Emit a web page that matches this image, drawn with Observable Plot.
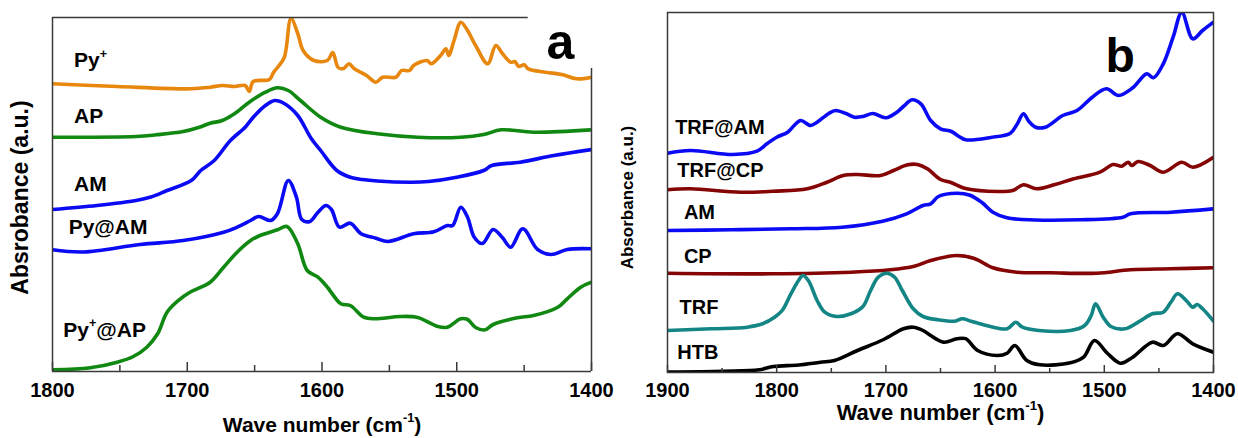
<!DOCTYPE html>
<html><head><meta charset="utf-8">
<script src="https://cdn.jsdelivr.net/npm/d3@7"></script>
<script src="https://cdn.jsdelivr.net/npm/@observablehq/plot@0.6"></script>
<style>
body{margin:0;background:#fff;}
#chart{position:relative;width:1238px;height:438px;overflow:hidden;background:#fff;}
#chart svg{position:absolute;top:0;overflow:visible;}
</style></head><body><div id="chart"></div>
<script>
// ---------- Panel a : [wavenumber cm-1, absorbance a.u. (offset)] ----------
const pyPlus = [[1800,2.877],[1752,2.85],[1697,2.827],[1683,2.843],[1674,2.86],[1665,2.85],[1657,2.86],[1654,2.80],[1651,2.90],[1639,2.92],[1636,2.99],[1633,3.04],[1628,3.14],[1623,3.53],[1618,3.38],[1614,3.21],[1606,3.11],[1596,3.11],[1592,3.19],[1588,3.04],[1584,3.03],[1580,3.077],[1576,3.027],[1567,2.96],[1560,2.893],[1555,2.943],[1545,2.943],[1541,3.01],[1535,3.01],[1532,3.06],[1522,3.11],[1519,3.077],[1512,3.16],[1508,3.227],[1506,3.16],[1502,3.31],[1497,3.493],[1492,3.41],[1486,3.26],[1477,3.077],[1471,3.26],[1466,3.177],[1460,3.093],[1457,3.10],[1454,3.05],[1450,3.067],[1447,3.027],[1434,2.993],[1422,2.97],[1411,2.927],[1400,2.943]];
const apA = [[1800,2.343],[1738,2.35],[1723,2.367],[1703,2.40],[1691,2.443],[1683,2.483],[1674,2.51],[1665,2.577],[1654,2.693],[1642,2.793],[1633,2.837],[1625,2.81],[1616,2.71],[1601,2.543],[1586,2.443],[1559,2.377],[1529,2.343],[1497,2.343],[1480,2.37],[1467,2.417],[1443,2.393],[1400,2.417]];
const amA = [[1800,1.62],[1767,1.66],[1738,1.71],[1727,1.745],[1715,1.81],[1697,1.91],[1690,2.01],[1680,2.11],[1668,2.31],[1657,2.443],[1651,2.543],[1642,2.66],[1635,2.71],[1628,2.68],[1618,2.56],[1608,2.33],[1601,2.21],[1589,2.01],[1579,1.943],[1570,1.92],[1559,1.905],[1534,1.893],[1521,1.90],[1500,1.943],[1480,2.01],[1474,2.06],[1453,2.093],[1428,2.16],[1400,2.22]];
const pyAM = [[1800,1.217],[1777,1.195],[1735,1.27],[1703,1.31],[1673,1.393],[1663,1.443],[1653,1.51],[1647,1.55],[1638,1.51],[1633,1.58],[1625,1.91],[1619,1.743],[1615,1.52],[1609,1.50],[1603,1.593],[1597,1.66],[1593,1.62],[1587,1.443],[1579,1.483],[1571,1.377],[1560,1.333],[1551,1.30],[1532,1.377],[1517,1.397],[1507,1.46],[1503,1.46],[1497,1.643],[1492,1.543],[1487,1.343],[1481,1.28],[1473,1.42],[1466,1.337],[1460,1.243],[1451,1.427],[1440,1.22],[1430,1.17],[1418,1.22],[1400,1.227]];
const pyPlusAP = [[1800,0.017],[1772,0.037],[1752,0.093],[1740,0.15],[1730,0.243],[1722,0.377],[1715,0.593],[1706,0.717],[1698,0.793],[1683,0.893],[1673,1.043],[1663,1.193],[1653,1.31],[1646,1.36],[1633,1.417],[1626,1.45],[1618,1.277],[1611,1.01],[1603,0.943],[1596,0.843],[1586,0.677],[1579,0.66],[1569,0.543],[1561,0.527],[1542,0.55],[1529,0.54],[1514,0.45],[1507,0.443],[1497,0.527],[1492,0.52],[1486,0.44],[1479,0.417],[1473,0.47],[1455,0.537],[1443,0.56],[1425,0.643],[1418,0.727],[1408,0.843],[1400,0.893]];
const seriesNamesA = ["Py^{+}", "AP", "AM", "Py@AM", "Py^{+}@AP"];
const labelWaveA = [1784, 1784, 1784, 1788, 1792];
const labelAbsA = [3.11, 2.555, 1.87, 1.445, 0.415];
const ticksMajorA = [1800, 1700, 1600, 1500, 1400];
const ticksMinorA = [1750, 1650, 1550, 1450];

// ---------- Panel b ----------
const trfAM = [[1900,2.193],[1879,2.22],[1840,2.18],[1818,2.213],[1809,2.287],[1800,2.353],[1790,2.403],[1784,2.47],[1778,2.52],[1769,2.47],[1763,2.503],[1752,2.593],[1746,2.62],[1736,2.587],[1729,2.553],[1721,2.56],[1712,2.59],[1700,2.547],[1690,2.603],[1684,2.66],[1676,2.727],[1668,2.687],[1659,2.52],[1650,2.437],[1640,2.41],[1633,2.36],[1627,2.327],[1604,2.35],[1586,2.393],[1580,2.48],[1574,2.587],[1569,2.51],[1563,2.453],[1554,2.453],[1538,2.57],[1525,2.62],[1511,2.753],[1498,2.837],[1487,2.77],[1474,2.847],[1461,2.987],[1455,2.947],[1446,3.087],[1437,3.353],[1429,3.60],[1419,3.337],[1410,3.42],[1400,3.503]];
const trfCP = [[1900,1.827],[1879,1.837],[1833,1.803],[1803,1.813],[1772,1.837],[1754,1.903],[1739,1.97],[1726,1.98],[1705,1.97],[1693,2.02],[1680,2.077],[1671,2.08],[1662,2.037],[1650,1.93],[1641,1.903],[1626,1.837],[1598,1.81],[1584,1.82],[1574,1.877],[1562,1.837],[1545,1.88],[1528,1.937],[1504,2.003],[1492,2.08],[1484,2.063],[1478,2.103],[1475,2.07],[1469,2.11],[1458,2.07],[1446,2.003],[1429,2.103],[1419,2.053],[1400,2.153]];
const amB = [[1900,1.42],[1842,1.427],[1787,1.437],[1740,1.453],[1703,1.513],[1681,1.587],[1666,1.67],[1659,1.687],[1652,1.76],[1635,1.793],[1623,1.773],[1612,1.70],[1602,1.603],[1590,1.55],[1575,1.53],[1522,1.527],[1483,1.553],[1476,1.587],[1439,1.603],[1400,1.637]];
const cpB = [[1900,0.993],[1805,0.987],[1732,1.003],[1696,1.027],[1674,1.063],[1659,1.12],[1635,1.17],[1619,1.14],[1602,1.047],[1580,1.003],[1549,0.997],[1507,0.993],[1476,1.027],[1439,1.037],[1400,1.047]];
const trfB = [[1900,0.42],[1860,0.437],[1827,0.453],[1813,0.487],[1802,0.553],[1795,0.62],[1787,0.787],[1780,0.92],[1776,0.97],[1771,0.92],[1763,0.72],[1756,0.603],[1745,0.56],[1732,0.587],[1721,0.66],[1714,0.82],[1707,0.953],[1699,0.993],[1692,0.953],[1685,0.82],[1675,0.637],[1666,0.56],[1652,0.527],[1637,0.513],[1630,0.537],[1622,0.513],[1608,0.47],[1589,0.437],[1581,0.503],[1575,0.453],[1560,0.42],[1531,0.42],[1518,0.47],[1512,0.57],[1508,0.687],[1501,0.553],[1494,0.46],[1481,0.437],[1469,0.503],[1456,0.587],[1446,0.603],[1439,0.703],[1433,0.787],[1425,0.72],[1419,0.653],[1415,0.68],[1410,0.637],[1400,0.513]];
const htbB = [[1900,0.005],[1849,0.013],[1816,0.027],[1803,0.06],[1780,0.075],[1760,0.103],[1747,0.12],[1726,0.22],[1702,0.33],[1684,0.437],[1675,0.453],[1666,0.42],[1659,0.37],[1647,0.303],[1635,0.337],[1627,0.338],[1616,0.22],[1598,0.17],[1589,0.193],[1582,0.27],[1571,0.12],[1559,0.077],[1531,0.097],[1519,0.153],[1509,0.32],[1497,0.19],[1485,0.093],[1474,0.153],[1456,0.303],[1446,0.27],[1433,0.387],[1419,0.287],[1400,0.203]];
const seriesNamesB = ["TRF@AM", "TRF@CP", "AM", "CP", "TRF", "HTB"];
const labelWaveB = [1893, 1891, 1885, 1885, 1889, 1891];
const labelAbsB = [2.45, 2.015, 1.595, 1.163, 0.645, 0.203];
const ticksMajorB = [1900, 1800, 1700, 1600, 1500, 1400];
const ticksMinorB = [1850, 1750, 1650, 1550, 1450];

const FONT = '"Liberation Sans", Arial, Helvetica, sans-serif';
const FRAME = "#3a3a3a";

function supify(svg) {
  const ns = "http://www.w3.org/2000/svg";
  svg.querySelectorAll("text").forEach(t => {
    const s = t.textContent;
    if (!s.includes("^{")) return;
    const fs = parseFloat(getComputedStyle(t).fontSize) || 20;
    t.textContent = "";
    let raised = false;
    s.split(/(\^\{[^}]*\})/).forEach(p => {
      if (!p) return;
      const ts = document.createElementNS(ns, "tspan");
      if (p.startsWith("^{")) {
        ts.textContent = p.slice(2, -1);
        ts.setAttribute("font-size", (fs * 0.6).toFixed(1));
        ts.setAttribute("dy", (-fs * 0.45).toFixed(1));
        raised = true;
      } else {
        ts.textContent = p;
        if (raised) { ts.setAttribute("dy", (fs * 0.45).toFixed(1)); raised = false; }
      }
      t.appendChild(ts);
    });
  });
}

const pt = {x: d => d[0], y: d => d[1]};
const lineW = 3.6;

// ---------- build panel a ----------
const colorsA = ["#E8870E", "#118811", "#0A0AF5", "#0A0AF5", "#118811"];
const seriesA = [pyPlus, apA, amA, pyAM, pyPlusAP];
const hA = 438, mTA = 17, mBA = 67, innerHA = hA - mTA - mBA;
const yMaxA = 3.54;
const labelsA = seriesNamesA.map((n, i) => ({n, x: labelWaveA[i], y: labelAbsA[i]}));
const plotA = Plot.plot({
  width: 610, height: hA,
  marginLeft: 52, marginRight: 19, marginTop: mTA, marginBottom: mBA,
  x: {domain: [1800, 1400]},
  y: {domain: [0, yMaxA], axis: null},
  style: {fontFamily: FONT, fontWeight: "bold", background: "transparent", overflow: "visible"},
  marks: [
    ...seriesA.map((s, i) => Plot.line(s, {...pt, stroke: colorsA[i], strokeWidth: lineW, curve: "catmull-rom", clip: true})),
    Plot.ruleX([1800], {stroke: FRAME, strokeWidth: 1.5}),
    Plot.ruleY([0], {stroke: FRAME, strokeWidth: 1.5}),
    Plot.ruleY([yMaxA], {x1: 1800, x2: 1447, stroke: FRAME, strokeWidth: 1.5}),
    Plot.ruleX([1400], {y1: 0, y2: 3.03, stroke: FRAME, strokeWidth: 1.5}),
    Plot.tickX(ticksMajorA, {x: d => d, insetTop: innerHA - 9, stroke: FRAME, strokeWidth: 1.5}),
    Plot.tickX(ticksMinorA, {x: d => d, insetTop: innerHA - 6, stroke: FRAME, strokeWidth: 1.5}),
    Plot.axisX({ticks: ticksMajorA, tickSize: 0, tickPadding: 11, fontSize: 20, tickFormat: d => String(d), fill: "black", label: null}),
    Plot.text(labelsA, {x: "x", y: "y", text: "n", textAnchor: "start", fontSize: 21, fontWeight: "bold", fill: "black"}),
    Plot.text(["a"], {x: () => 1423, y: () => 3.29, fontSize: 50, fontWeight: "bold", fill: "black"}),
    Plot.text(["Absrobance (a.u.)"], {frameAnchor: "left", textAnchor: "middle", rotate: -90, dx: -32, dy: 3, fontSize: 23, fontWeight: "bold", fill: "black"}),
    Plot.text(["Wave number (cm^{-1})"], {frameAnchor: "bottom", textAnchor: "middle", dy: 60, fontSize: 21, fontWeight: "bold", fill: "black"})
  ]
});

// ---------- build panel b ----------
const colorsB = ["#0A0AF5", "#850404", "#0A0AF5", "#850404", "#138585", "#000000"];
const seriesB = [trfAM, trfCP, amB, cpB, trfB, htbB];
const hB = 438, mTB = 12, mBB = 66, innerHB = hB - mTB - mBB;
const labelsB = seriesNamesB.map((n, i) => ({n, x: labelWaveB[i], y: labelAbsB[i]}));
const plotB = Plot.plot({
  width: 628, height: hB,
  marginLeft: 57, marginRight: 25, marginTop: mTB, marginBottom: mBB,
  x: {domain: [1900, 1400]},
  y: {domain: [0, 3.60], axis: null},
  style: {fontFamily: FONT, fontWeight: "bold", background: "transparent", overflow: "visible"},
  marks: [
    ...seriesB.map((s, i) => Plot.line(s, {...pt, stroke: colorsB[i], strokeWidth: lineW, curve: "catmull-rom", clip: true})),
    Plot.frame({stroke: FRAME, strokeWidth: 1.5}),
    Plot.tickX(ticksMajorB, {x: d => d, insetTop: innerHB - 7, stroke: FRAME, strokeWidth: 1.5}),
    Plot.tickX(ticksMinorB, {x: d => d, insetTop: innerHB - 4, stroke: FRAME, strokeWidth: 1.5}),
    Plot.axisX({ticks: ticksMajorB, tickSize: 0, tickPadding: 10, fontSize: 20, tickFormat: d => String(d), fill: "black", label: null}),
    Plot.text(labelsB, {x: "x", y: "y", text: "n", textAnchor: "start", fontSize: 20, fontWeight: "bold", fill: "black"}),
    Plot.text(["b"], {x: () => 1485.5, y: () => 3.154, fontSize: 48, fontWeight: "bold", fill: "black"}),
    Plot.text(["Absorbance (a.u.)"], {frameAnchor: "left", textAnchor: "middle", rotate: -90, dx: -40, dy: 5, fontSize: 17, fontWeight: "bold", fill: "black"}),
    Plot.text(["Wave number (cm^{-1})"], {frameAnchor: "bottom", textAnchor: "middle", dy: 47, fontSize: 22, fontWeight: "bold", fill: "black"})
  ]
});

const chart = document.getElementById("chart");
plotA.style.left = "0px";
plotB.style.left = "610px";
chart.appendChild(plotA);
chart.appendChild(plotB);
supify(plotA);
supify(plotB);
</script></body></html>
